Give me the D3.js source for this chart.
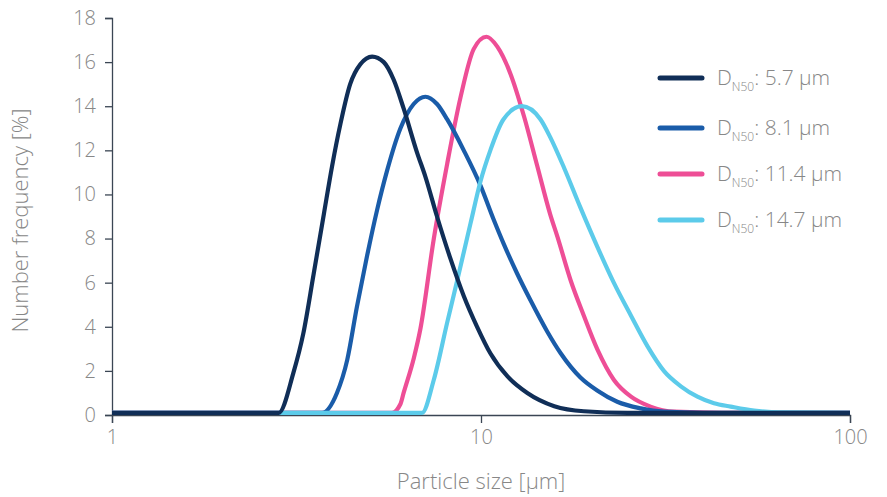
<!DOCTYPE html>
<html>
<head>
<meta charset="utf-8">
<script src="https://cdn.jsdelivr.net/npm/d3@7"></script>
<style>
  body { margin: 0; background: #fff; }
  text { font-family: "Open Sans", Lato, sans-serif; font-weight: 300; fill: #878787; }
</style>
</head>
<body>
<div id="chart_div"></div>
<script>
// particle size distributions, x in µm, y in %
var series_names = ["5.7 µm", "8.1 µm", "11.4 µm", "14.7 µm"];
var series_colors = ["#102e57", "#1a5ca9", "#ee4e96", "#5ccbea"];

var dn57 = [[1,0.1],[2.83,0.1],[3.1,1.9],[3.3,3.7],[3.52,6.4],[3.75,9.1],[3.95,11.3],[4.16,13.2],[4.42,15.0],
  [4.71,15.9],[5.07,16.25],[5.45,16.0],[5.8,15.2],[6.17,13.9],[6.71,11.9],[7.07,10.8],[7.6,9.0],[8.26,7.1],
  [8.98,5.4],[9.76,4.0],[10.6,2.8],[11.8,1.75],[13.35,1.0],[15.8,0.4],[19,0.17],[25,0.1],[100,0.1]];
var dn81 = [[1,0.1],[3.71,0.1],[4.07,1.0],[4.34,2.5],[4.61,4.9],[4.91,7.2],[5.23,9.3],[5.57,11.1],[6.05,13.0],
  [6.57,14.1],[7.07,14.43],[7.6,14.1],[8.1,13.4],[8.98,12.0],[9.97,10.4],[10.8,8.9],[11.53,7.75],[12.5,6.45],
  [13.62,5.2],[15.1,3.8],[16.44,2.8],[18.6,1.7],[20.7,1.1],[23.4,0.6],[27.1,0.3],[31.3,0.15],[40,0.1],[100,0.1]];
var dn114 = [[1,0.1],[5.74,0.1],[6.05,0.5],[6.17,1.0],[6.58,2.6],[6.85,3.9],[7.45,8.0],[8.1,11.4],[8.8,14.4],
  [9.56,16.6],[10.35,17.15],[11.07,16.7],[12.0,15.5],[13.1,13.5],[14.2,11.3],[15.4,9.1],[16.1,8.1],
  [17.5,6.1],[19.0,4.5],[20.7,2.95],[22.9,1.6],[25.5,0.83],[28.8,0.38],[33.4,0.15],[45,0.1],[100,0.1]];
var dn147 = [[1,0.1],[6.92,0.1],[7.45,1.6],[8.1,4.2],[8.62,6.1],[9.37,8.7],[9.97,10.6],[10.6,12.0],[11.5,13.4],
  [12.9,14.0],[14.5,13.4],[15.4,12.6],[16.8,11.2],[18.6,9.4],[20.7,7.6],[22.9,6.0],[25.5,4.5],[28.3,3.1],
  [31.3,2.0],[34.8,1.3],[38.6,0.83],[42.8,0.53],[47.5,0.38],[55,0.2],[65,0.12],[100,0.1]];

var y_ticks = [0, 2, 4, 6, 8, 10, 12, 14, 16, 18];
var x_ticks = [1, 10, 100];

var width = 887, height = 497;
var margin = {left: 112, right: 37, top: 18, bottom: 82};

var svg = d3.select("#chart_div").append("svg")
    .attr("width", width)
    .attr("height", height);

var x = d3.scaleLog().domain([1, 100]).range([margin.left, width - margin.right]);
var y = d3.scaleLinear().domain([0, 18]).range([height - margin.bottom, margin.top]);

// axes
var x_axis = svg.append("g")
    .attr("transform", "translate(0," + y(0) + ")")
    .call(d3.axisBottom(x).tickValues(x_ticks).tickFormat(d3.format("d")).tickSize(8).tickPadding(7));
var y_axis = svg.append("g")
    .attr("transform", "translate(" + x(1) + ",0)")
    .call(d3.axisLeft(y).tickValues(y_ticks).tickSize(7).tickPadding(9));

[x_axis, y_axis].forEach(function(a) {
    a.select(".domain").attr("stroke", "#3b4654").attr("stroke-width", 1.3);
    a.selectAll(".tick line").attr("stroke", "#3b4654").attr("stroke-width", 1.3);
    a.selectAll(".tick text").attr("font-size", 20).attr("fill", "#878787")
        .style("font-family", "'Open Sans', Lato, sans-serif");
});

svg.append("text")
    .attr("x", x(10))
    .attr("y", 489)
    .attr("text-anchor", "middle")
    .attr("font-size", 22)
    .text("Particle size [µm]");

svg.append("text")
    .attr("transform", "translate(28," + ((y(0) + y(18)) / 2 + 4) + ") rotate(-90)")
    .attr("text-anchor", "middle")
    .attr("font-size", 22)
    .text("Number frequency [%]");

// curves
var line = d3.line()
    .x(function(d) { return x(d[0]); })
    .y(function(d) { return y(d[1]); })
    .curve(d3.curveMonotoneX);

var all_series = [dn114, dn81, dn147, dn57];
var all_colors = [series_colors[2], series_colors[1], series_colors[3], series_colors[0]];
for (var i = 0; i < all_series.length; i++) {
    svg.append("path")
        .attr("d", line(all_series[i]))
        .attr("fill", "none")
        .attr("stroke", all_colors[i])
        .attr("stroke-width", 4.2)
        .attr("stroke-linejoin", "round");
}

// legend
var legend = svg.append("g");
var legend_y = [78, 128, 174, 220];
for (var k = 0; k < series_names.length; k++) {
    legend.append("line")
        .attr("x1", 660).attr("x2", 702)
        .attr("y1", legend_y[k]).attr("y2", legend_y[k])
        .attr("stroke", series_colors[k])
        .attr("stroke-width", 5)
        .attr("stroke-linecap", "round");
    var t = legend.append("text")
        .attr("x", 717)
        .attr("y", legend_y[k] + 7)
        .attr("font-size", 21);
    t.append("tspan").text("D");
    t.append("tspan").attr("font-size", 12).attr("dy", 6).text("N50");
    t.append("tspan").attr("dy", -6).text(": " + series_names[k]);
}
</script>
</body>
</html>
